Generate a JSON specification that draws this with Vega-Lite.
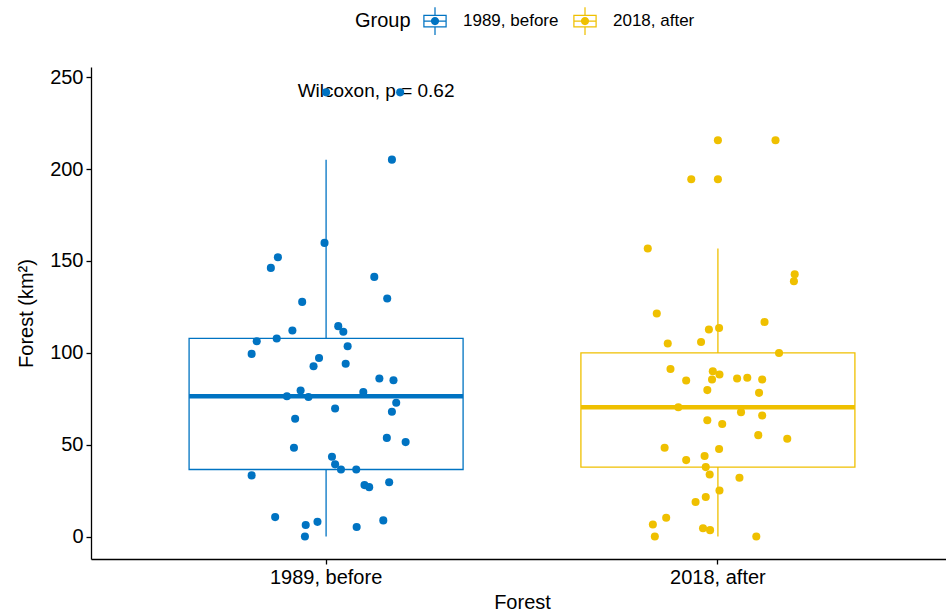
{
  "$schema": "https://vega.github.io/schema/vega-lite/v6.json",
  "autosize": {"type": "none"},
  "padding": {"left": 91, "top": 67, "right": 0, "bottom": 56},
  "width": 855,
  "height": 492,
  "config": {
    "font": "Liberation Sans",
    "view": {"stroke": null},
    "axis": {
      "grid": false,
      "domainColor": "#000000",
      "domainWidth": 1.3,
      "tickColor": "#000000",
      "tickWidth": 1.3,
      "tickSize": 5,
      "labelFont": "Liberation Sans",
      "labelFontSize": 20,
      "labelColor": "#000000",
      "titleFont": "Liberation Sans",
      "titleFontSize": 20,
      "titleFontWeight": "normal",
      "titleColor": "#000000"
    },
    "legend": {
      "labelFont": "Liberation Sans",
      "titleFont": "Liberation Sans"
    }
  },
  "data": {
    "values": [
      {"Group": "1989, before", "Forest": 205.1, "jitter": 0.168},
      {"Group": "1989, before", "Forest": 159.8, "jitter": -0.004},
      {"Group": "1989, before", "Forest": 152.0, "jitter": -0.123},
      {"Group": "1989, before", "Forest": 146.2, "jitter": -0.141},
      {"Group": "1989, before", "Forest": 141.3, "jitter": 0.123},
      {"Group": "1989, before", "Forest": 127.7, "jitter": -0.061},
      {"Group": "1989, before", "Forest": 129.5, "jitter": 0.156},
      {"Group": "1989, before", "Forest": 241.7, "jitter": 0.189},
      {"Group": "1989, before", "Forest": 112.1, "jitter": -0.086},
      {"Group": "1989, before", "Forest": 114.5, "jitter": 0.031},
      {"Group": "1989, before", "Forest": 111.4, "jitter": 0.044},
      {"Group": "1989, before", "Forest": 106.3, "jitter": -0.177},
      {"Group": "1989, before", "Forest": 107.8, "jitter": -0.126},
      {"Group": "1989, before", "Forest": 99.4, "jitter": -0.190},
      {"Group": "1989, before", "Forest": 103.6, "jitter": 0.055},
      {"Group": "1989, before", "Forest": 97.2, "jitter": -0.018},
      {"Group": "1989, before", "Forest": 92.7, "jitter": -0.032},
      {"Group": "1989, before", "Forest": 94.0, "jitter": 0.050},
      {"Group": "1989, before", "Forest": 86.0, "jitter": 0.136},
      {"Group": "1989, before", "Forest": 85.1, "jitter": 0.172},
      {"Group": "1989, before", "Forest": 76.4, "jitter": -0.100},
      {"Group": "1989, before", "Forest": 79.5, "jitter": -0.065},
      {"Group": "1989, before", "Forest": 75.9, "jitter": -0.045},
      {"Group": "1989, before", "Forest": 78.7, "jitter": 0.095},
      {"Group": "1989, before", "Forest": 72.8, "jitter": 0.179},
      {"Group": "1989, before", "Forest": 67.9, "jitter": 0.168},
      {"Group": "1989, before", "Forest": 69.7, "jitter": 0.023},
      {"Group": "1989, before", "Forest": 64.1, "jitter": -0.079},
      {"Group": "1989, before", "Forest": 53.7, "jitter": 0.155},
      {"Group": "1989, before", "Forest": 51.4, "jitter": 0.203},
      {"Group": "1989, before", "Forest": 48.3, "jitter": -0.082},
      {"Group": "1989, before", "Forest": 43.4, "jitter": 0.015},
      {"Group": "1989, before", "Forest": 39.3, "jitter": 0.023},
      {"Group": "1989, before", "Forest": 36.5, "jitter": 0.038},
      {"Group": "1989, before", "Forest": 36.5, "jitter": 0.077},
      {"Group": "1989, before", "Forest": 33.3, "jitter": -0.190},
      {"Group": "1989, before", "Forest": 28.0, "jitter": 0.098},
      {"Group": "1989, before", "Forest": 26.9, "jitter": 0.110},
      {"Group": "1989, before", "Forest": 29.6, "jitter": 0.161},
      {"Group": "1989, before", "Forest": 10.6, "jitter": -0.130},
      {"Group": "1989, before", "Forest": 6.3, "jitter": -0.052},
      {"Group": "1989, before", "Forest": 8.0, "jitter": -0.022},
      {"Group": "1989, before", "Forest": 5.2, "jitter": 0.078},
      {"Group": "1989, before", "Forest": 8.8, "jitter": 0.146},
      {"Group": "1989, before", "Forest": 0, "jitter": -0.054},
      {"Group": "2018, after", "Forest": 215.6, "jitter": 0.147},
      {"Group": "2018, after", "Forest": 194.4, "jitter": -0.068},
      {"Group": "2018, after", "Forest": 156.7, "jitter": -0.179},
      {"Group": "2018, after", "Forest": 142.7, "jitter": 0.196},
      {"Group": "2018, after", "Forest": 138.9, "jitter": 0.194},
      {"Group": "2018, after", "Forest": 121.4, "jitter": -0.156},
      {"Group": "2018, after", "Forest": 116.8, "jitter": 0.119},
      {"Group": "2018, after", "Forest": 112.7, "jitter": -0.023},
      {"Group": "2018, after", "Forest": 113.5, "jitter": 0.003},
      {"Group": "2018, after", "Forest": 105.1, "jitter": -0.128},
      {"Group": "2018, after", "Forest": 105.9, "jitter": -0.043},
      {"Group": "2018, after", "Forest": 99.9, "jitter": 0.156},
      {"Group": "2018, after", "Forest": 91.2, "jitter": -0.121},
      {"Group": "2018, after", "Forest": 84.9, "jitter": -0.081},
      {"Group": "2018, after", "Forest": 90.0, "jitter": -0.013},
      {"Group": "2018, after", "Forest": 88.2, "jitter": 0.004},
      {"Group": "2018, after", "Forest": 85.5, "jitter": -0.015},
      {"Group": "2018, after", "Forest": 86.0, "jitter": 0.049},
      {"Group": "2018, after", "Forest": 86.4, "jitter": 0.075},
      {"Group": "2018, after", "Forest": 85.5, "jitter": 0.113},
      {"Group": "2018, after", "Forest": 79.7, "jitter": -0.027},
      {"Group": "2018, after", "Forest": 78.2, "jitter": 0.105},
      {"Group": "2018, after", "Forest": 70.4, "jitter": -0.101},
      {"Group": "2018, after", "Forest": 67.7, "jitter": 0.059},
      {"Group": "2018, after", "Forest": 65.9, "jitter": 0.113},
      {"Group": "2018, after", "Forest": 63.3, "jitter": -0.027},
      {"Group": "2018, after", "Forest": 61.3, "jitter": 0.011},
      {"Group": "2018, after", "Forest": 55.2, "jitter": 0.103},
      {"Group": "2018, after", "Forest": 53.2, "jitter": 0.177},
      {"Group": "2018, after", "Forest": 48.3, "jitter": -0.136},
      {"Group": "2018, after", "Forest": 47.7, "jitter": 0.003},
      {"Group": "2018, after", "Forest": 41.6, "jitter": -0.081},
      {"Group": "2018, after", "Forest": 43.8, "jitter": -0.034},
      {"Group": "2018, after", "Forest": 37.8, "jitter": -0.031},
      {"Group": "2018, after", "Forest": 33.8, "jitter": -0.021},
      {"Group": "2018, after", "Forest": 32.0, "jitter": 0.055},
      {"Group": "2018, after", "Forest": 25.1, "jitter": 0.004},
      {"Group": "2018, after", "Forest": 21.5, "jitter": -0.031},
      {"Group": "2018, after", "Forest": 18.8, "jitter": -0.057},
      {"Group": "2018, after", "Forest": 10.2, "jitter": -0.132},
      {"Group": "2018, after", "Forest": 6.6, "jitter": -0.166},
      {"Group": "2018, after", "Forest": 0, "jitter": -0.161},
      {"Group": "2018, after", "Forest": 4.5, "jitter": -0.038},
      {"Group": "2018, after", "Forest": 3.5, "jitter": -0.020},
      {"Group": "2018, after", "Forest": 0, "jitter": 0.098}
    ]
  },
  "encoding": {
    "x": {
      "field": "Group",
      "type": "nominal",
      "sort": ["1989, before", "2018, after"],
      "scale": {"domain": ["1989, before", "2018, after"], "range": [0, 862], "paddingInner": 0, "paddingOuter": 0.1},
      "axis": {"title": "Forest", "labelAngle": 0, "labelPadding": 3, "titlePadding": 5}
    },
    "y": {
      "field": "Forest",
      "type": "quantitative",
      "scale": {"domain": [-12.2, 255.5], "nice": false, "zero": false},
      "axis": {"title": "Forest (km²)", "values": [0, 50, 100, 150, 200, 250], "labelPadding": 3, "titlePadding": 13}
    }
  },
  "layer": [
    {
      "data": {"values": [{"Group": "1989, before", "Forest": 242.3, "label": "Wilcoxon, p = 0.62"}]},
      "mark": {"type": "text", "fontSize": 19, "dx": 50, "align": "center", "baseline": "middle", "color": "#000000", "font": "Liberation Sans"},
      "encoding": {"text": {"field": "label"}}
    },
    {
      "transform": [{"filter": "datum.Group === '1989, before'"}],
      "mark": {
        "type": "boxplot",
        "extent": 1.5,
        "size": 274,
        "ticks": false,
        "box": {"fill": "white", "stroke": "#0073C2", "strokeWidth": 1.3},
        "median": {"color": "#0073C2", "thickness": 4.5, "opacity": 1},
        "rule": {"color": "#0073C2", "strokeWidth": 1.3, "opacity": 1},
        "outliers": {"color": "#0073C2", "filled": true, "size": 65, "opacity": 1, "strokeWidth": 0}
      }
    },
    {
      "transform": [{"filter": "datum.Group === '2018, after'"}],
      "mark": {
        "type": "boxplot",
        "extent": 1.5,
        "size": 274,
        "ticks": false,
        "box": {"fill": "white", "stroke": "#EFC000", "strokeWidth": 1.3},
        "median": {"color": "#EFC000", "thickness": 4.5, "opacity": 1},
        "rule": {"color": "#EFC000", "strokeWidth": 1.3, "opacity": 1},
        "outliers": {"color": "#EFC000", "filled": true, "size": 65, "opacity": 1, "strokeWidth": 0}
      }
    },
    {
      "mark": {"type": "point", "filled": true, "size": 65, "opacity": 1, "strokeWidth": 0},
      "encoding": {
        "xOffset": {"field": "jitter", "type": "quantitative", "scale": {"domain": [-0.5, 0.5]}},
        "color": {
          "field": "Group",
          "type": "nominal",
          "scale": {"domain": ["1989, before", "2018, after"], "range": ["#0073C2", "#EFC000"]},
          "legend": {
            "title": "Group",
            "orient": "none",
            "legendX": 264,
            "legendY": -60,
            "direction": "horizontal",
            "titleOrient": "left",
            "titleAnchor": "middle",
            "titleBaseline": "middle",
            "titleFontSize": 20,
            "titleFontWeight": "normal",
            "titleColor": "#000000",
            "titlePadding": 10,
            "labelFontSize": 17,
            "labelColor": "#000000",
            "labelOffset": 14,
            "columnPadding": 12,
            "symbolSize": 760,
            "symbolStrokeWidth": 0,
            "symbolOpacity": 1,
            "symbolType": "M-0.85,-0.46H0.85V0.46H-0.85Z M-0.76,-0.37V0.37H0.76V-0.37Z M-0.76,-0.045H0.76V0.045H-0.76Z M-0.045,-1H0.045V-0.46H-0.045Z M-0.045,0.46H0.045V1H-0.045Z M-0.3,0A0.3,0.3 0 1,1 0.3,0A0.3,0.3 0 1,1 -0.3,0Z"
          }
        }
      }
    }
  ]
}
